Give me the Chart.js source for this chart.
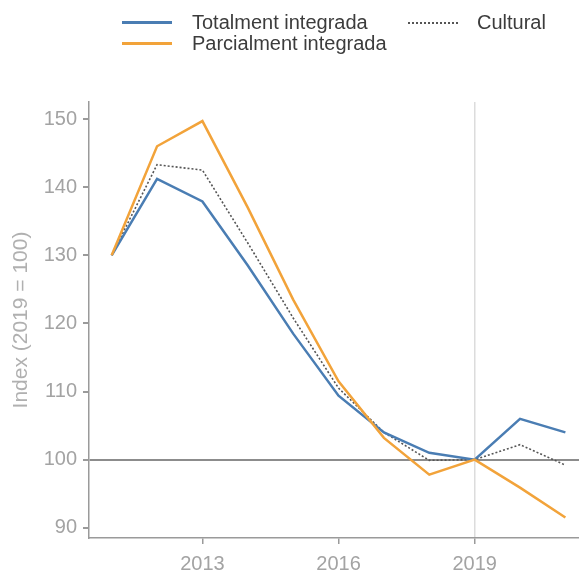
<!DOCTYPE html>
<html>
<head>
<meta charset="utf-8">
<script src="https://cdn.jsdelivr.net/npm/chart.js@4"></script>
<style>
    body { margin: 0; background: #fff; font-family: "Liberation Sans", Arial, sans-serif; }
    #wrap { position: relative; width: 579px; height: 572px; }
    .leg { position: absolute; font-size: 20px; line-height: 20px; color: #3c3c3c; white-space: nowrap; }
    .sw { position: absolute; width: 50px; height: 0; }
</style>
</head>
<body>
<div id="wrap">
    <canvas id="myChart" width="579" height="572"></canvas>
    <div class="sw" style="left:122px; top:21px; border-top:3px solid #4a7db3;"></div>
    <div class="leg" style="left:192px; top:12px;">Totalment integrada</div>
    <div class="sw" style="left:122px; top:42px; border-top:3px solid #f2a33a;"></div>
    <div class="leg" style="left:192px; top:33px;">Parcialment integrada</div>
    <div class="sw" style="left:408px; top:22px; border-top:2px dotted #555;"></div>
    <div class="leg" style="left:477px; top:12px;">Cultural</div>
</div>
<script>
const years = [2011, 2012, 2013, 2014, 2015, 2016, 2017, 2018, 2019, 2020, 2021];
const totalment = [130, 141.2, 137.9, 128.5, 118.5, 109.4, 104, 101, 100, 106, 104];
const parcialment = [130, 146, 149.7, 137, 123.5, 111.5, 103.2, 97.8, 100, 95.9, 91.5];
const cultural = [130, 143.3, 142.5, 131.8, 120.8, 110.5, 104, 99.9, 100, 102.2, 99.2];
const xTicks = [2013, 2016, 2019];
const yTicks = [90, 100, 110, 120, 130, 140, 150];

function points(values) {
    return years.map((y, i) => ({ x: y, y: values[i] }));
}

const axisGrey = '#9a9a9a';
const tickFont = { family: '"Liberation Sans", Arial, sans-serif', size: 20 };

const data = {
    datasets: [{
        label: 'Parcialment integrada',
        data: points(parcialment),
        borderColor: '#f2a33a',
        borderWidth: 2.5
    }, {
        label: 'Totalment integrada',
        data: points(totalment),
        borderColor: '#4a7db3',
        borderWidth: 2.5
    }, {
        label: 'Cultural',
        data: points(cultural),
        borderColor: '#555555',
        borderWidth: 1.6,
        borderDash: [2, 2]
    }]
};

const config = {
    type: 'line',
    data: data,
    options: {
        responsive: false,
        animation: false,
        layout: { padding: { top: 102, left: 0, right: 0, bottom: 0 } },
        elements: { point: { radius: 0 }, line: { tension: 0 } },
        plugins: {
            legend: { display: false },
            tooltip: { enabled: false }
        },
        scales: {
            x: {
                type: 'linear',
                min: 2010.5,
                max: 2021.3,
                afterBuildTicks: function (scale) {
                    scale.ticks = xTicks.map(v => ({ value: v }));
                },
                afterFit: function (scale) { scale.height = 34; },
                ticks: {
                    color: '#a3a3a3',
                    font: tickFont,
                    padding: 8,
                    maxRotation: 0,
                    callback: function (v) { return String(v); }
                },
                grid: {
                    drawOnChartArea: true,
                    color: ctx => (ctx.tick && ctx.tick.value === 2019) ? '#dcdcdc' : 'rgba(0,0,0,0)',
                    lineWidth: 1.5,
                    tickColor: axisGrey,
                    tickLength: 6
                },
                border: { display: true, color: axisGrey, width: 1.5 }
            },
            y: {
                min: 88.5,
                max: 152.5,
                afterBuildTicks: function (scale) {
                    scale.ticks = yTicks.map(v => ({ value: v }));
                },
                afterFit: function (scale) { scale.width = 89; },
                title: {
                    display: true,
                    text: 'Index (2019 = 100)',
                    color: '#b0b0b0',
                    font: { family: '"Liberation Sans", Arial, sans-serif', size: 21 },
                    padding: { top: 9, bottom: 0 }
                },
                ticks: {
                    color: '#a3a3a3',
                    font: tickFont,
                    padding: 6
                },
                grid: {
                    drawOnChartArea: true,
                    color: ctx => (ctx.tick && ctx.tick.value === 100) ? '#8c8c8c' : 'rgba(0,0,0,0)',
                    lineWidth: 2,
                    tickColor: axisGrey,
                    tickLength: 6
                },
                border: { display: true, color: axisGrey, width: 1.5 }
            }
        }
    }
};

const myChart = new Chart(document.getElementById('myChart'), config);
</script>
</body>
</html>
